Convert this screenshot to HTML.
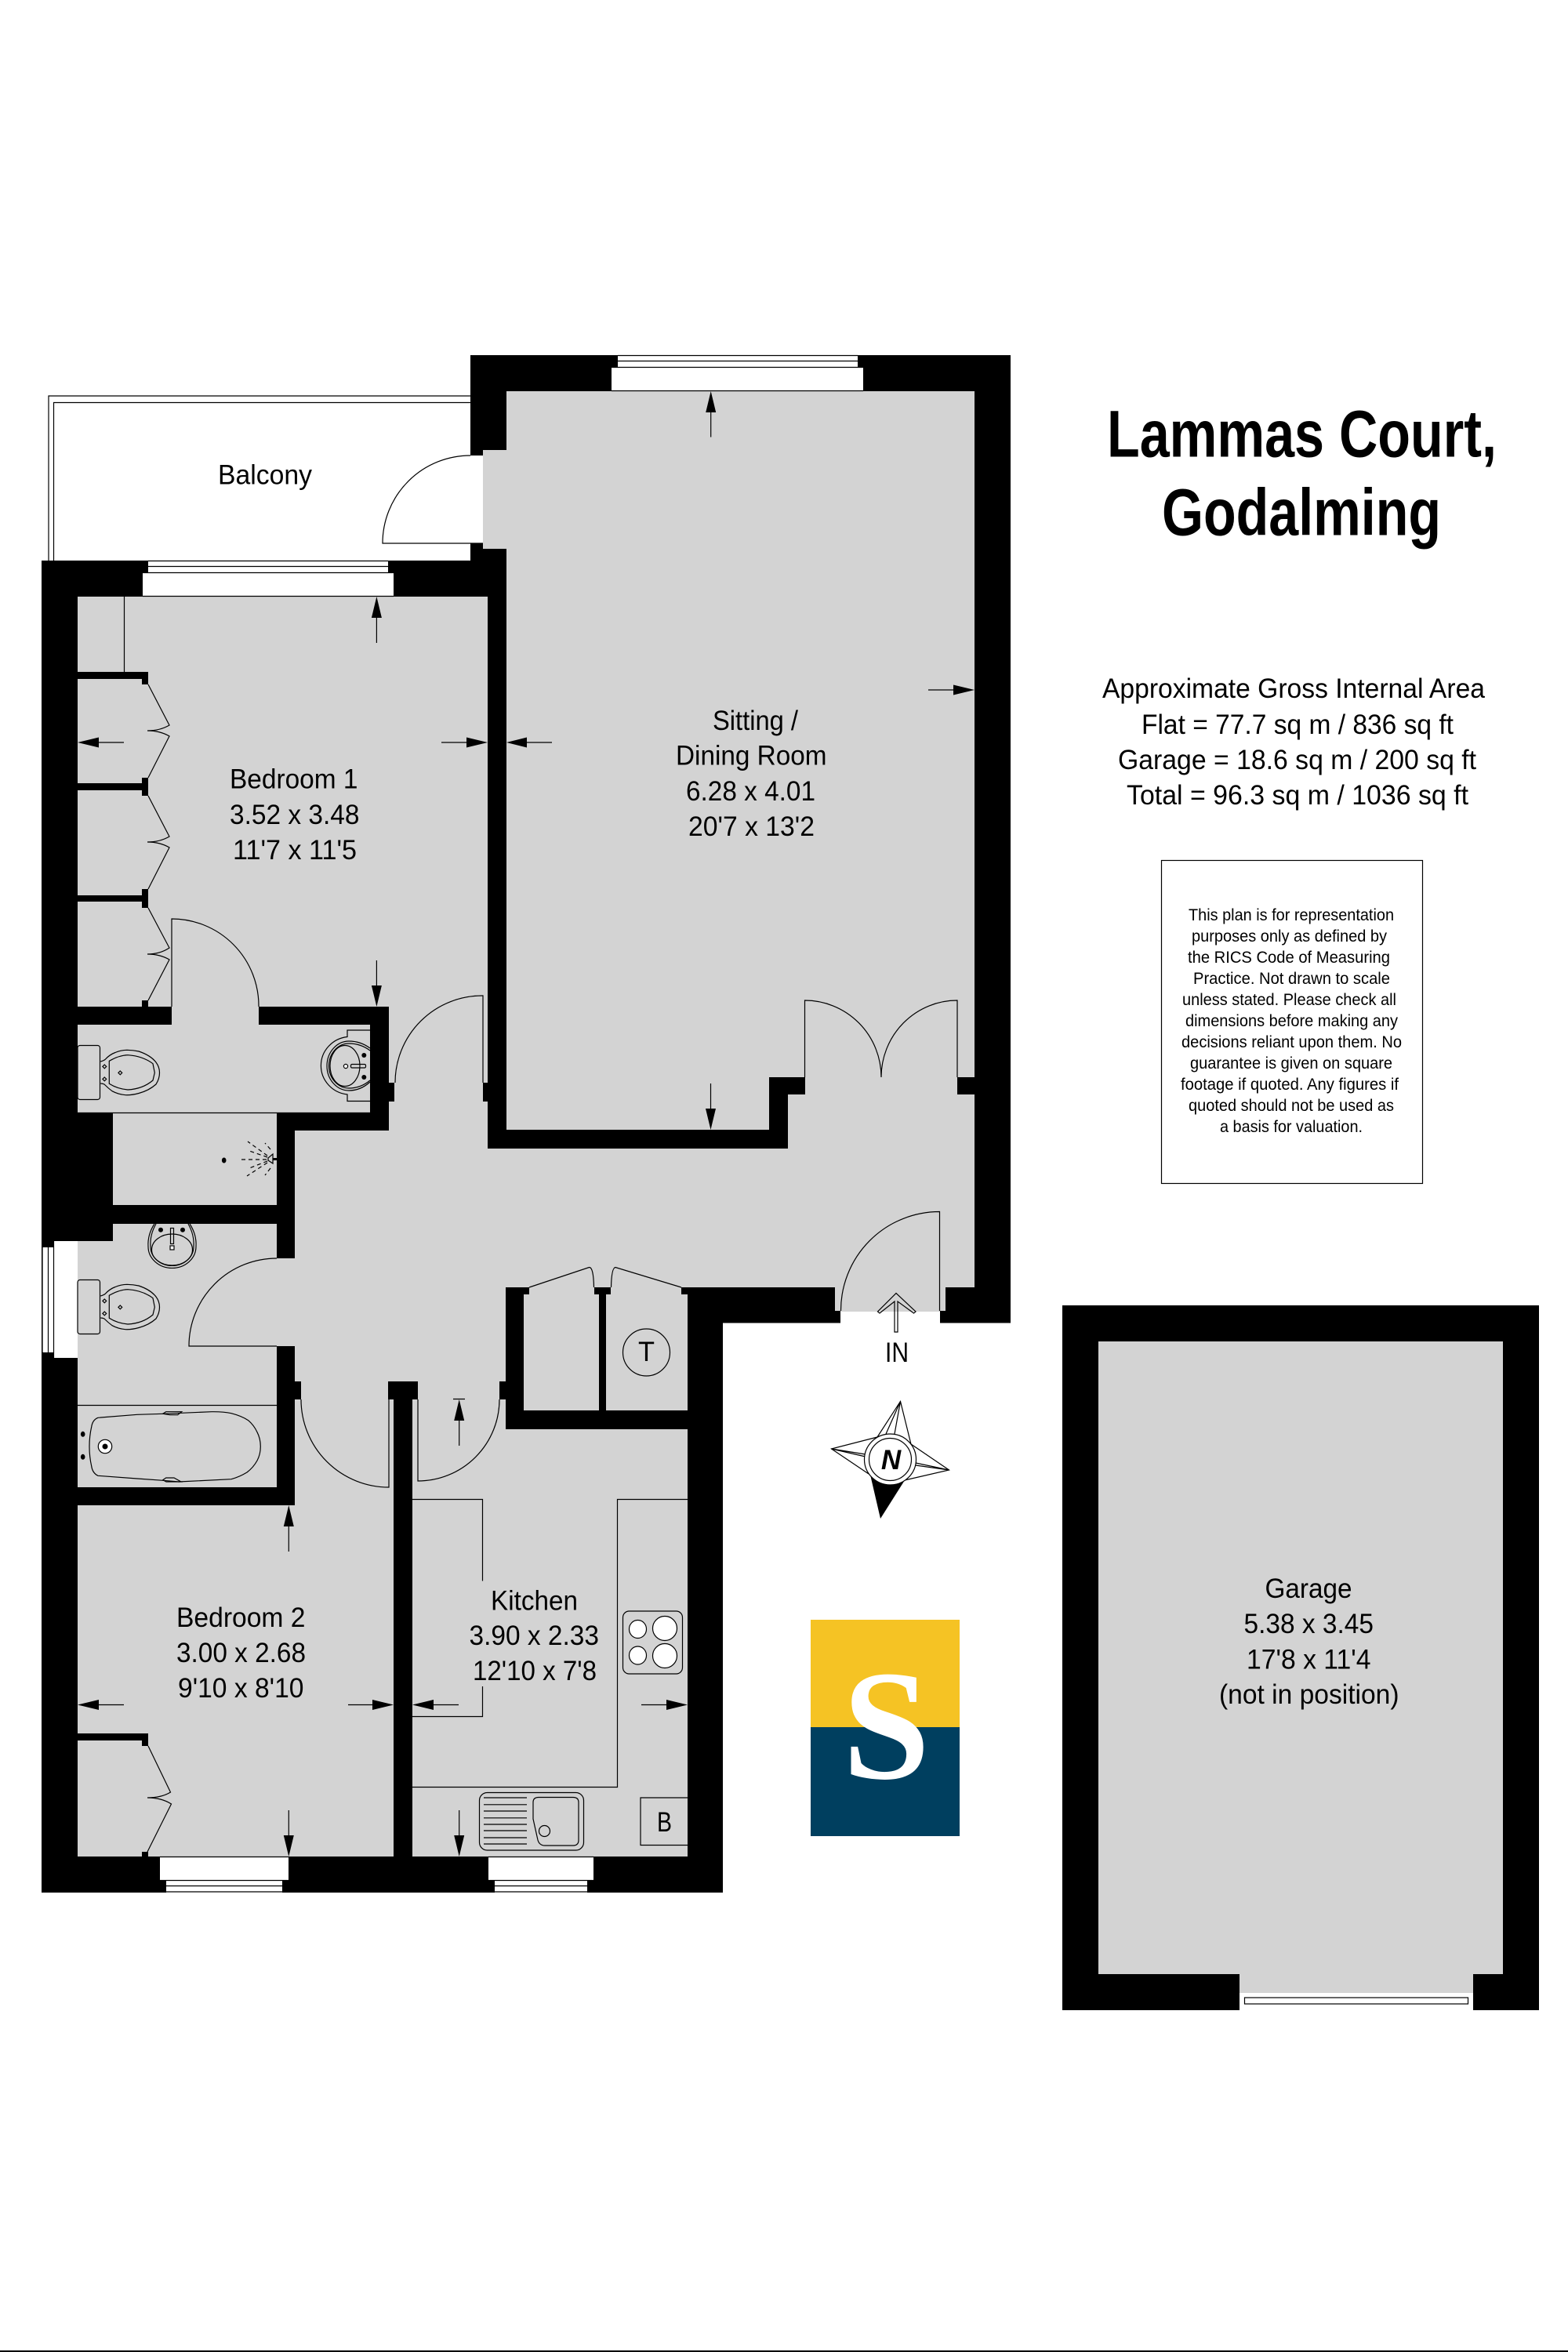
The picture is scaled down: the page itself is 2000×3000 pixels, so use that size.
<!DOCTYPE html>
<html><head><meta charset="utf-8">
<style>html,body{margin:0;padding:0;background:#fff}svg{display:block}text{font-family:"Liberation Sans",Arial,sans-serif;fill:#000}
.r rect{shape-rendering:crispEdges}
.l{fill:none;stroke:#000;stroke-width:1.2}
.t{font-size:35px}
.s{font-size:21px}
.a{font-size:35px}
</style></head><body>
<svg width="2000" height="3000" viewBox="0 0 2000 3000" xmlns="http://www.w3.org/2000/svg">
<rect width="2000" height="3000" fill="#fff"/>
<rect x="0" y="2998" width="2000" height="2" fill="#000" shape-rendering="crispEdges"/>

<!-- balcony rails -->
<path class="l" d="M62,715V505H600M68.5,715V513.5H600"/>

<!-- black silhouette -->
<polygon points="600,453 1289,453 1289,1687.5 922,1687.5 922,2414 53,2414 53,715 600,715" fill="#000" shape-rendering="crispEdges"/>
<g class="r" fill="#d3d3d3">
<rect x="646" y="499" width="597" height="875"/>
<rect x="646" y="1374" width="335" height="67"/>
<rect x="1027" y="1374" width="194" height="22"/>
<rect x="1005" y="1396" width="238" height="69"/>
<rect x="616" y="574" width="30" height="126"/>
<rect x="376" y="1465" width="867" height="177"/>
<rect x="376" y="1442" width="246" height="23"/>
<rect x="496" y="1405" width="126" height="37"/>
<rect x="503" y="1381" width="113" height="24"/>
<rect x="496" y="1284" width="126" height="97"/>
<rect x="99" y="761" width="523" height="523"/>
<rect x="219" y="1284" width="111" height="23"/>
<rect x="99" y="1307" width="373" height="112"/>
<rect x="144" y="1419" width="209" height="118"/>
<rect x="144" y="1561" width="209" height="22"/>
<rect x="99" y="1583" width="254" height="314"/>
<rect x="353" y="1605" width="23" height="112"/>
<rect x="376" y="1642" width="269" height="143"/>
<rect x="376" y="1785" width="126" height="583"/>
<rect x="99" y="1920" width="277" height="448"/>
<rect x="526" y="1785" width="119" height="38"/>
<rect x="526" y="1823" width="351" height="545"/>
<rect x="668" y="1651" width="96" height="148"/>
<rect x="773" y="1651" width="104" height="148"/>
<rect x="675" y="1642" width="83" height="9"/>
<rect x="779" y="1642" width="90" height="9"/>
<rect x="1065" y="1642" width="141" height="30"/>
<rect x="1072" y="1672" width="127" height="1"/>
</g>
<g class="r" fill="#000">
<!-- door stubs / overlays -->
<rect x="376" y="1762" width="8" height="23"/>
<rect x="637" y="1762" width="8" height="23"/>
<rect x="495" y="1762" width="38" height="23"/>
<!-- wardrobes bed 1 -->
<rect x="99" y="857" width="90" height="9"/>
<rect x="181" y="857" width="8" height="16"/>
<rect x="99" y="999" width="90" height="9"/>
<rect x="181" y="992" width="8" height="23"/>
<rect x="99" y="1142" width="90" height="8"/>
<rect x="181" y="1134" width="8" height="24"/>
<rect x="181" y="1276" width="8" height="8"/>
<!-- wardrobes bed 2 -->
<rect x="99" y="2211" width="90" height="9"/>
<rect x="181" y="2211" width="8" height="16"/>
<rect x="181" y="2362" width="8" height="6"/>
</g>
<g class="r" fill="#fff">
<rect x="600" y="581" width="16" height="112"/>
<rect x="1072" y="1673" width="127" height="15"/>
<!-- windows -->
<rect x="182" y="731" width="320" height="30"/>
<rect x="189" y="715" width="306" height="16"/>
<rect x="780" y="469" width="321" height="30"/>
<rect x="788" y="453" width="306" height="16"/>
<rect x="69" y="1583" width="30" height="149"/>
<rect x="54" y="1591" width="15" height="134"/>
<rect x="204" y="2369" width="164" height="29"/>
<rect x="212" y="2398" width="148" height="16"/>
<rect x="623" y="2369" width="134" height="29"/>
<rect x="631" y="2398" width="118" height="16"/>
</g>
<!-- window lines -->
<path class="l" d="M189,715.5H495M189,722.5H495M182,730.5H502M182,760.5H502"/>
<path class="l" d="M788,453.5H1094M788,460.5H1094M780,468.5H1101M780,498.5H1101"/>
<path class="l" d="M54,1591V1725M61.5,1591V1725M68.5,1583V1732"/>
<path class="l" d="M204,2368.5H368M204,2398.5H368M212,2405.5H360M212,2413H360"/>
<path class="l" d="M623,2368.5H757M623,2398.5H757M631,2405.5H749M631,2413H749"/>
<path class="l" d="M158.5,761V857M99,1419.5H472M99,1792.5H353"/>

<!-- doors -->
<path class="l" d="M600,581A112,112 0 0 0 488,693H616"/>
<path class="l" d="M219,1284V1172A111,111 0 0 1 330,1284"/>
<path class="l" d="M616,1381V1270A111,111 0 0 0 504,1381"/>
<path class="l" d="M353,1605A112,112 0 0 0 241,1717H353"/>
<path class="l" d="M384,1785A112,112 0 0 0 496,1897V1785"/>
<path class="l" d="M533,1785V1889A104,104 0 0 0 637,1785"/>
<path class="l" d="M1026.5,1374V1276A97.5,98 0 0 1 1124,1374A97,98 0 0 1 1221,1276V1374"/>
<path class="l" d="M1198.5,1672V1545.5A126,126 0 0 0 1072.5,1672"/>
<path class="l" d="M675,1642L751.5,1616.5Q757,1616 757.5,1642M869,1642L785,1616.5Q780,1617 779.5,1642"/>

<!-- bifold wardrobe doors -->
<path class="l" d="M189,873L216,925Q204,932 188,932Q204,932 216,939L189,992"/>
<path class="l" d="M189,1015L216,1067Q204,1074 188,1074Q204,1074 216,1081L189,1134"/>
<path class="l" d="M189,1158L216,1209Q204,1217 188,1217Q204,1217 216,1224L189,1276"/>
<path class="l" d="M189,2227L217.5,2286Q206,2293 188,2293Q206,2293 218.5,2301L188,2362"/>

<!-- toilets -->
<g>
<rect class="l" x="99" y="1333.5" width="28.5" height="69" rx="3"/>
<path class="l" d="M128.3,1354Q132,1353 134,1351.5Q140,1345 147,1342.5Q154,1339.5 162,1339.3Q170,1339.5 177,1341Q192,1346 199,1355Q203.5,1361 203.5,1368.3Q203.5,1376 199,1383Q190,1391 177,1394.5Q168,1397 160,1396.7Q151,1396 143,1391.7Q138,1388 133,1383Q131,1382 128.3,1382"/>
<path class="l" d="M139.3,1353.3Q152,1346 163,1345.7Q182,1347 195,1356.7L197.3,1368.3L195,1378Q182,1389 163,1390Q150,1389 139.3,1382.3Z"/>
<path class="l" d="M133.3,1358l2.4,2.4l-2.4,2.4l-2.4,-2.4ZM133.3,1374l2.4,2.4l-2.4,2.4l-2.4,-2.4ZM153.3,1366l2.4,2.4l-2.4,2.4l-2.4,-2.4Z"/>
</g>
<g transform="translate(0,299)">
<rect class="l" x="99" y="1333.5" width="28.5" height="69" rx="3"/>
<path class="l" d="M128.3,1354Q132,1353 134,1351.5Q140,1345 147,1342.5Q154,1339.5 162,1339.3Q170,1339.5 177,1341Q192,1346 199,1355Q203.5,1361 203.5,1368.3Q203.5,1376 199,1383Q190,1391 177,1394.5Q168,1397 160,1396.7Q151,1396 143,1391.7Q138,1388 133,1383Q131,1382 128.3,1382"/>
<path class="l" d="M139.3,1353.3Q152,1346 163,1345.7Q182,1347 195,1356.7L197.3,1368.3L195,1378Q182,1389 163,1390Q150,1389 139.3,1382.3Z"/>
<path class="l" d="M133.3,1358l2.4,2.4l-2.4,2.4l-2.4,-2.4ZM133.3,1374l2.4,2.4l-2.4,2.4l-2.4,-2.4ZM153.3,1366l2.4,2.4l-2.4,2.4l-2.4,-2.4Z"/>
</g>

<!-- en-suite basin -->
<path class="l" d="M472,1314H443V1322.5A38,37 0 0 0 443,1396V1404.5H472"/>
<path class="l" d="M472,1337Q460,1328 445,1328A28,31.5 0 0 0 445,1391Q460,1391 472,1380"/>
<path class="l" d="M472,1340Q460,1331 445,1331A25.5,28.5 0 0 0 445,1388Q460,1388 472,1378"/>
<ellipse class="l" cx="440" cy="1359.5" rx="19" ry="26"/>
<rect class="l" x="447.5" y="1357.5" width="19" height="4.5" rx="1.5"/>
<circle class="l" style="fill:#fff" cx="441" cy="1360" r="2.6"/>
<circle cx="464.3" cy="1346" r="3" fill="#000"/><circle cx="464.3" cy="1374" r="3" fill="#000"/>

<!-- bathroom basin -->
<path class="l" d="M197,1561Q188,1575 189,1590A30,27 0 0 0 250,1590Q251,1575 242,1561"/>
<path class="l" d="M199,1561Q191,1575 192,1590A27,24 0 0 0 247,1590Q248,1575 240,1561"/>
<ellipse class="l" cx="219.5" cy="1594" rx="26" ry="20"/>
<rect class="l" x="217.5" y="1566.5" width="4" height="20"/>
<rect class="l" style="fill:#fff" x="217" y="1589" width="5" height="5"/>
<circle cx="205" cy="1568.7" r="3" fill="#000"/><circle cx="233" cy="1568.7" r="3" fill="#000"/>

<!-- shower -->
<ellipse cx="285.7" cy="1480" rx="2.8" ry="3.5" fill="#000"/>
<rect x="348" y="1477" width="5" height="3" fill="#000"/>
<path class="l" d="M348,1472V1484L342,1480V1477Z"/>
<path class="l" stroke-dasharray="5 4" d="M340,1479H308M341,1474L316,1456M341,1476L318,1468M341,1483L315,1500M341,1481L318,1490M345,1466L338,1458M345,1490L338,1499"/>

<!-- bath -->
<path class="l" d="M125,1808.3L175,1804.3L208,1803.3L270,1800.7Q285,1800.5 295,1802.7Q308,1806 316.7,1811.7Q324,1818 328,1826.7Q332.3,1835 332.3,1845Q332.3,1855 328,1863Q323,1872 315,1878Q305,1884 295,1886.7L228,1890L208,1888.3L175,1886L125,1882.3Q118,1879 116.7,1870Q114,1858 114,1845Q114,1832 116.7,1820Q118,1811 125,1808.3Z"/>
<path class="l" d="M207.7,1803.3L211.7,1800.7H231.7L226.7,1804.7H216.7ZM207.7,1887.7L211.7,1885H222L231,1890H212Z"/>
<circle cx="134" cy="1845" r="8.7" fill="#fff" stroke="#000" stroke-width="1.2"/>
<circle cx="134" cy="1845" r="3.5" fill="#000"/>
<ellipse cx="105.7" cy="1829.3" rx="2.8" ry="3.5" fill="#000"/><ellipse cx="105.7" cy="1858.3" rx="2.8" ry="3.5" fill="#000"/>

<!-- T -->
<circle class="l" cx="824.5" cy="1725" r="30"/>

<!-- kitchen -->
<path class="l" d="M526,1912.5H615.5V2016.5M615.5,2151V2189.5H526M877,1912.5H787.5V2279.5H526"/>
<rect class="l" x="794.5" y="2055" width="76" height="80" rx="8"/>
<ellipse cx="813.5" cy="2078" rx="11" ry="11.5" fill="#fff" stroke="#000" stroke-width="1.2"/>
<ellipse cx="848" cy="2077" rx="15.5" ry="15.5" fill="#fff" stroke="#000" stroke-width="1.2"/>
<ellipse cx="813.5" cy="2111.5" rx="11" ry="11.5" fill="#fff" stroke="#000" stroke-width="1.2"/>
<ellipse cx="848" cy="2112" rx="15.5" ry="15.5" fill="#fff" stroke="#000" stroke-width="1.2"/>
<rect class="l" x="611.5" y="2286.5" width="133" height="73.5" rx="10"/>
<path class="l" d="M617,2293H672M617,2301.8H672M617,2310H672M617,2318.8H672M617,2327H672M617,2335H672M617,2344H672M617,2352H672"/>
<path class="l" d="M687,2292.5H731Q738,2292.5 738,2299V2347Q738,2354 731,2354H695Q688,2354 686,2347L680,2320V2299Q680,2292.5 687,2292.5Z"/>
<circle class="l" cx="694.5" cy="2335.5" r="7"/>
<path class="l" d="M877,2293H817V2353.5H877"/>

<!-- dimension arrows -->
<g fill="#000">
<path d="M480.4,761l6.5,27h-13Z"/><path class="l" d="M480.4,785V820"/>
<path d="M99,947l27,-6.5v13Z"/><path class="l" d="M120,947H158"/>
<path d="M622,947l-27,-6.5v13Z"/><path class="l" d="M600,947H563"/>
<path d="M646,947l26,-6.5v13Z"/><path class="l" d="M668,947H704"/>
<path d="M906.7,499l6.5,27h-13Z"/><path class="l" d="M906.7,522V557.5"/>
<path d="M1243,880l-27,-6.5v13Z"/><path class="l" d="M1220,880H1184"/>
<path d="M906.5,1441l6.5,-27h-13Z"/><path class="l" d="M906.5,1418V1382"/>
<path d="M480.4,1284l6.5,-27h-13Z"/><path class="l" d="M480.4,1262V1225"/>
<path d="M368.3,1920l6.5,27h-13Z"/><path class="l" d="M368.3,1942V1979"/>
<path d="M99,2174.5l27,-6.5v13Z"/><path class="l" d="M120,2174.5H158"/>
<path d="M502,2174.5l-27,-6.5v13Z"/><path class="l" d="M480,2174.5H444"/>
<path d="M368.3,2368l6.5,-27h-13Z"/><path class="l" d="M368.3,2346V2309"/>
<path d="M526,2174.5l27,-6.5v13Z"/><path class="l" d="M548,2174.5H585"/>
<path d="M877,2174.5l-27,-6.5v13Z"/><path class="l" d="M855,2174.5H818"/>
<path d="M585.7,1785l6.5,27h-13Z"/><path class="l" d="M585.7,1806V1844M578,1784.5H593"/>
<path d="M585.7,2368l6.5,-27h-13Z"/><path class="l" d="M585.7,2346V2309"/>
<path d="M1557.6,1711l6,27h-12Z"/><path class="l" d="M1557.6,1732V1769"/>
<path d="M1401,2120.8l27,-6.5v13Z"/><path class="l" d="M1422,2120.8H1460"/>
<path d="M1917,2120.8l-27,-6.5v13Z"/><path class="l" d="M1896,2120.8H1858"/>
<path d="M1557.6,2518l6,-27h-12Z"/><path class="l" d="M1557.6,2497V2459"/>
</g>

<!-- IN arrow -->
<path class="l" d="M1141,1699V1660L1122,1675L1119.5,1673L1143,1649.5L1168,1673L1165.5,1675L1145,1660V1699Z"/>

<!-- garage -->
<g class="r">
<rect x="1355" y="1665" width="608" height="899" fill="#000"/>
<rect x="1401" y="1711" width="516" height="807" fill="#d3d3d3"/>
<rect x="1581" y="2518" width="298" height="24" fill="#d3d3d3"/>
<rect x="1581" y="2542" width="298" height="22" fill="#fff"/>
</g>
<rect class="l" x="1587.5" y="2548" width="285" height="8"/>

<!-- compass -->
<polygon points="1110,1881 1154,1888 1123,1937" fill="#000"/>
<path class="l" d="M1119,1833L1148.5,1787.5L1162,1842L1210.5,1875L1154,1888M1108,1880L1060.5,1848L1119,1833"/>
<path class="l" d="M1148.5,1787.5L1141,1829M1148.5,1787.5L1130,1829M1060.5,1848L1104,1855M1060.5,1848L1104,1858M1210.5,1875L1168,1866M1210.5,1875L1168,1869"/>
<ellipse cx="1135.5" cy="1861.5" rx="33" ry="32.5" fill="#fff" stroke="#000" stroke-width="1.2"/>
<ellipse cx="1135.5" cy="1861.5" rx="27" ry="27" fill="#fff" stroke="#000" stroke-width="1.2"/>
<text x="1136.5" y="1874" font-size="35" font-weight="bold" font-style="italic" text-anchor="middle">N</text>

<!-- logo -->
<g class="r">
<rect x="1034" y="2066" width="190" height="137" fill="#f5c324"/>
<rect x="1034" y="2203" width="190" height="139" fill="#003f5f"/>
</g>
<text x="1130.5" y="2268" text-anchor="middle" style="font-family:'Liberation Serif',serif;font-weight:bold;font-size:200px;fill:#fff">S</text>

<!-- labels -->
<g class="t">
<text x="278" y="617.5" textLength="120" lengthAdjust="spacingAndGlyphs">Balcony</text>
<text x="293" y="1005.5" textLength="163.5" lengthAdjust="spacingAndGlyphs">Bedroom 1</text>
<text x="293" y="1051" textLength="165.5" lengthAdjust="spacingAndGlyphs">3.52 x 3.48</text>
<text x="297" y="1096" textLength="158" lengthAdjust="spacingAndGlyphs">11'7 x 11'5</text>
<text x="909" y="931" textLength="109" lengthAdjust="spacingAndGlyphs">Sitting /</text>
<text x="862" y="975.5" textLength="192.5" lengthAdjust="spacingAndGlyphs">Dining Room</text>
<text x="875" y="1021" textLength="165" lengthAdjust="spacingAndGlyphs">6.28 x 4.01</text>
<text x="878" y="1066" textLength="161" lengthAdjust="spacingAndGlyphs">20'7 x 13'2</text>
<text x="225" y="2075" textLength="164.5" lengthAdjust="spacingAndGlyphs">Bedroom 2</text>
<text x="225" y="2120" textLength="165" lengthAdjust="spacingAndGlyphs">3.00 x 2.68</text>
<text x="227" y="2165" textLength="160.5" lengthAdjust="spacingAndGlyphs">9'10 x 8'10</text>
<text x="626" y="2053.5" textLength="111" lengthAdjust="spacingAndGlyphs">Kitchen</text>
<text x="598.5" y="2098" textLength="165.5" lengthAdjust="spacingAndGlyphs">3.90 x 2.33</text>
<text x="603" y="2143" textLength="158" lengthAdjust="spacingAndGlyphs">12'10 x 7'8</text>
<text x="838" y="2336" textLength="19" lengthAdjust="spacingAndGlyphs">B</text>
<text x="814" y="1736" textLength="21" lengthAdjust="spacingAndGlyphs">T</text>
<text x="1129" y="1737" textLength="30" lengthAdjust="spacingAndGlyphs">IN</text>
<text x="1613.5" y="2038" textLength="111" lengthAdjust="spacingAndGlyphs">Garage</text>
<text x="1586.5" y="2083" textLength="165.5" lengthAdjust="spacingAndGlyphs">5.38 x 3.45</text>
<text x="1590" y="2128.5" textLength="158.5" lengthAdjust="spacingAndGlyphs">17'8 x 11'4</text>
<text x="1555" y="2173" textLength="229.5" lengthAdjust="spacingAndGlyphs">(not in position)</text>
</g>

<text x="1412" y="582.5" font-size="84" font-weight="bold" textLength="497" lengthAdjust="spacingAndGlyphs">Lammas Court,</text>
<text x="1482" y="682.5" font-size="84" font-weight="bold" textLength="356" lengthAdjust="spacingAndGlyphs">Godalming</text>

<g class="a">
<text x="1406" y="890" textLength="488" lengthAdjust="spacingAndGlyphs">Approximate Gross Internal Area</text>
<text x="1456" y="936" textLength="398" lengthAdjust="spacingAndGlyphs">Flat = 77.7 sq m / 836 sq ft</text>
<text x="1426" y="981" textLength="457" lengthAdjust="spacingAndGlyphs">Garage = 18.6 sq m / 200 sq ft</text>
<text x="1437" y="1026" textLength="436" lengthAdjust="spacingAndGlyphs">Total = 96.3 sq m / 1036 sq ft</text>
</g>

<rect x="1481.5" y="1097.5" width="333" height="412" fill="#fff" stroke="#000" stroke-width="1.2"/>
<g class="s">
<text x="1516" y="1174" textLength="262" lengthAdjust="spacingAndGlyphs">This plan is for representation</text>
<text x="1520" y="1201" textLength="249" lengthAdjust="spacingAndGlyphs">purposes only as defined by</text>
<text x="1515" y="1228" textLength="258" lengthAdjust="spacingAndGlyphs">the RICS Code of Measuring</text>
<text x="1522" y="1255" textLength="251" lengthAdjust="spacingAndGlyphs">Practice. Not drawn to scale</text>
<text x="1508" y="1282" textLength="273" lengthAdjust="spacingAndGlyphs">unless stated. Please check all</text>
<text x="1512" y="1309" textLength="271" lengthAdjust="spacingAndGlyphs">dimensions before making any</text>
<text x="1507" y="1336" textLength="281" lengthAdjust="spacingAndGlyphs">decisions reliant upon them. No</text>
<text x="1518" y="1363" textLength="258" lengthAdjust="spacingAndGlyphs">guarantee is given on square</text>
<text x="1506" y="1390" textLength="278" lengthAdjust="spacingAndGlyphs">footage if quoted. Any figures if</text>
<text x="1516" y="1417" textLength="262" lengthAdjust="spacingAndGlyphs">quoted should not be used as</text>
<text x="1556" y="1444" textLength="182" lengthAdjust="spacingAndGlyphs">a basis for valuation.</text>
</g>
</svg>
</body></html>
